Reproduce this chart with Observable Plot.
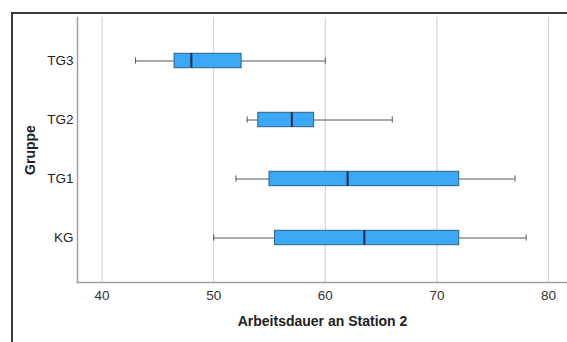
<!DOCTYPE html>
<html><head><meta charset="utf-8">
<script src="https://cdn.jsdelivr.net/npm/d3@7"></script>
<script src="https://cdn.jsdelivr.net/npm/@observablehq/plot@0.6"></script>
<style>
body{margin:0;background:#fff;}
#wrap{position:relative;width:567px;height:342px;overflow:hidden;font-family:"Liberation Sans",Arial,sans-serif;}
#border{position:absolute;left:11px;top:12px;width:600px;height:400px;border-left:2px solid #3a3a3a;border-top:2px solid #3a3a3a;}
#chart{position:absolute;left:0;top:0;}
</style></head><body>
<div id="wrap"><div id="border"></div><div id="chart"></div></div>
<script>
const groups = ["TG3", "TG2", "TG1", "KG"];
const whiskerLow = [43, 53, 52, 50];
const q1 = [46.5, 54, 55, 55.5];
const median = [48, 57, 62, 63.5];
const q3 = [52.5, 59, 72, 72];
const whiskerHigh = [60, 66, 77, 78];
const xTicks = [40, 50, 60, 70, 80];

const data = groups.map((g, i) => ({group: g, lo: whiskerLow[i], q1: q1[i], med: median[i], q3: q3[i], hi: whiskerHigh[i]}));

const chart = Plot.plot({
  width: 567,
  height: 342,
  marginTop: 17,
  marginBottom: 60,
  marginLeft: 77,
  marginRight: 0,
  style: {fontFamily: "Liberation Sans, Arial, sans-serif", fontSize: "13.5px", color: "#222", background: "transparent"},
  x: {domain: [37.8, 81.7], ticks: xTicks},
  y: {domain: groups, padding: 0.434},
  marks: [
    Plot.gridX(xTicks, {stroke: "#cfcfcf", strokeOpacity: 1, strokeWidth: 1}),
    Plot.frame({anchor: "left", stroke: "#a0a0a0", strokeWidth: 1.5}),
    Plot.frame({anchor: "bottom", stroke: "#a0a0a0", strokeWidth: 1.5}),
    Plot.axisX(xTicks, {tickSize: 0, tickPadding: 8, fontSize: 13.5, fill: "#333", label: "Arbeitsdauer an Station 2", labelAnchor: "center", labelOffset: 43, labelArrow: "none"}),
    Plot.axisY({tickSize: 0, tickPadding: 4, fontSize: 13.5, fill: "#222", label: "Gruppe", labelAnchor: "center", labelOffset: 52, labelArrow: "none"}),
    Plot.ruleY(data, {y: "group", x1: "lo", x2: "q1", stroke: "#555", strokeWidth: 1}),
    Plot.ruleY(data, {y: "group", x1: "q3", x2: "hi", stroke: "#555", strokeWidth: 1}),
    Plot.tickX(data, {y: "group", x: "lo", stroke: "#555", strokeWidth: 1, insetTop: 13.4, insetBottom: 13.4}),
    Plot.tickX(data, {y: "group", x: "hi", stroke: "#555", strokeWidth: 1, insetTop: 13.4, insetBottom: 13.4}),
    Plot.barX(data, {y: "group", x1: "q1", x2: "q3", fill: "#3aa8f5", stroke: "#2e5f88", strokeWidth: 1, insetTop: 9.3, insetBottom: 9.3}),
    Plot.tickX(data, {y: "group", x: "med", stroke: "#16294a", strokeWidth: 2, insetTop: 9.3, insetBottom: 9.3})
  ]
});
d3.select(chart).selectAll("g[aria-label='x-axis label'] text, g[aria-label='y-axis label'] text").attr("font-weight", "bold").attr("fill", "#222").attr("font-size", "14px");
document.getElementById("chart").appendChild(chart);
</script>
</body></html>
